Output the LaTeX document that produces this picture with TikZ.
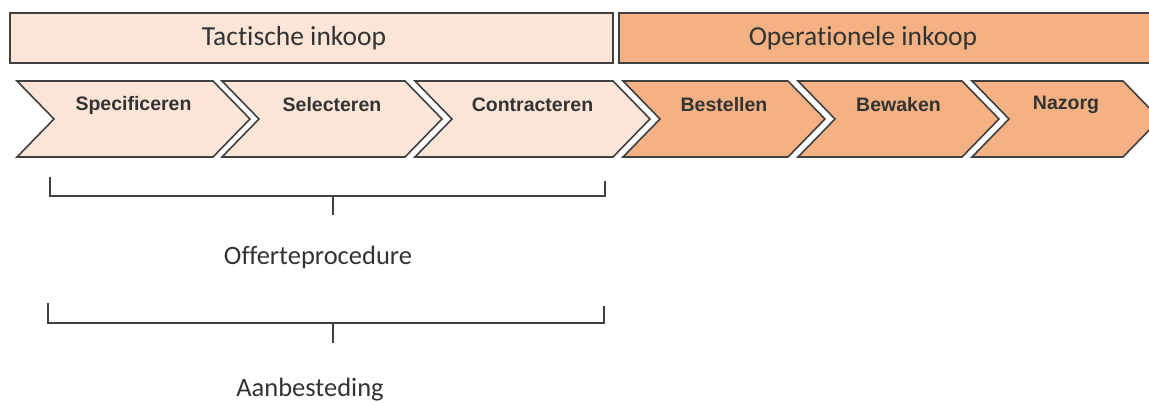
\documentclass[tikz,border=0pt]{standalone}
\usepackage{fontspec}
\setmainfont{Carlito}[RawFeature=-liga]
\newfontfamily\arialfont{Liberation Sans}
\definecolor{tactfill}{HTML}{FBE5D6}
\definecolor{opfill}{HTML}{F4B183}
\definecolor{rand}{HTML}{404040}
\definecolor{tekst}{HTML}{333333}

\begin{document}
\begin{tikzpicture}[x=1pt,y=-1pt,
  balk/.style={draw=rand,line width=1.6pt},
  pijl/.style={draw=rand,line width=1.6pt,line join=miter},
  stap/.style={font=\arialfont\bfseries\fontsize{19.5}{23}\selectfont,text=tekst},
  fase/.style={font=\fontsize{27.5}{32}\selectfont,text=tekst},
  haak/.style={draw=rand,line width=1.4pt},
  label/.style={font=\fontsize{26.5}{31}\selectfont,text=tekst}]

\useasboundingbox (0,0) rectangle (1149,403);
\clip (0,0) rectangle (1149,403);

% fases
\fill[tactfill] (10,13) rectangle (613,63);
\draw[balk] (10,13) rectangle (613,63);
\fill[opfill] (619,13) rectangle (1170,63);
\draw[balk] (619,13) rectangle (1170,63);
\node[fase] (tact) at (294,38) {Tactische inkoop};
\node[fase] (oper) at (863,38) {Operationele inkoop};

% stappen
\foreach \l/\r/\t/\c/\n in {17/213/Specificeren/tactfill/spec,
                            222/405/Selecteren/tactfill/sele,
                            415/613/Contracteren/tactfill/cont,
                            623/788/Bestellen/opfill/best,
                            798/962/Bewaken/opfill/bewa,
                            972/1123/Nazorg/opfill/nazo}
{
  \filldraw[fill=\c,pijl] (\l,81) -- (\r,81) -- (\r+37,119) -- (\r,157)
    -- (\l,157) -- (\l+37,119) -- cycle;
  \node[stap] (\n) at ({(\l+\r+37)/2},105) {\t};
}

% offerteprocedure
\draw[haak] (50,177) -- (50,196) -- (605,196) -- (605,181);
\draw[haak] (333,196) -- (333,215);
\node[label] (offerte) at (318,257) {Offerteprocedure};

% aanbesteding
\draw[haak] (48,303) -- (48,323) -- (604,323) -- (604,306);
\draw[haak] (333,323) -- (333,343);
\node[label] (aanbest) at (310,390) {Aanbesteding};

\end{tikzpicture}
\end{document}
